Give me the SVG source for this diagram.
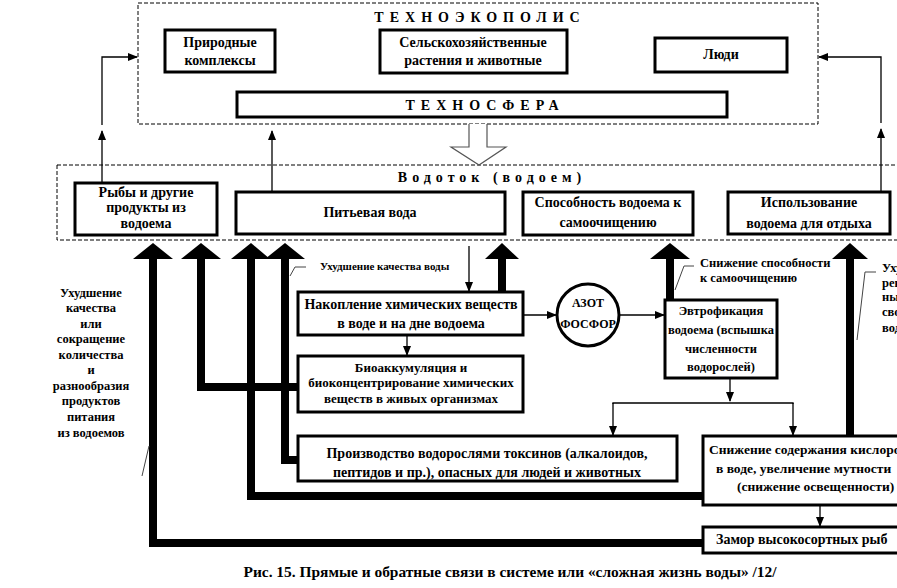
<svg xmlns="http://www.w3.org/2000/svg" width="897" height="588" viewBox="0 0 897 588">
<defs>
<style>
.box{fill:#fff;stroke:#000;stroke-width:3}
.dash{fill:none;stroke:#000;stroke-width:1;stroke-dasharray:4 2}
.t{font-family:"Liberation Serif","Times New Roman",serif;font-weight:bold;font-size:14px;text-anchor:middle;fill:#000}
.s{font-size:11px}
.m{font-size:12.5px}
.st{text-anchor:start}
.ttl{font-size:14px;letter-spacing:6px}
.thin{stroke:#000;stroke-width:1.3;fill:none}
.lead{stroke:#444;stroke-width:1;fill:none}
.thick{stroke:#000;stroke-width:8;fill:none}
.head{fill:#000}
</style>
<marker id="ah" markerWidth="10" markerHeight="10" refX="9" refY="4" orient="auto" markerUnits="userSpaceOnUse">
<path d="M0,0 L10,4 L0,8 Z" fill="#000"/>
</marker>
</defs>
<rect width="897" height="588" fill="#fff"/>

<g id="technoecopolis">
<rect class="dash" x="138" y="3" width="680" height="121"/>
<text class="t ttl" x="480" y="22">ТЕХНОЭКОПОЛИС</text>
</g>
<g id="node-prirodnye">
<rect class="box" x="165" y="30" width="110" height="42"/>
<text class="t" x="220" y="47">Природные</text>
<text class="t" x="220" y="65">комплексы</text>
</g>
<g id="node-selhoz">
<rect class="box" x="380" y="30" width="187" height="43"/>
<text class="t" x="473" y="47">Сельскохозяйственные</text>
<text class="t" x="473" y="65">растения и животные</text>
</g>
<g id="node-lyudi">
<rect class="box" x="655" y="38" width="132" height="34"/>
<text class="t" x="721" y="59">Люди</text>
</g>
<g id="node-technosfera">
<rect class="box" x="237" y="92" width="490" height="25"/>
<text class="t ttl" x="485" y="110">ТЕХНОСФЕРА</text>
</g>

<g id="vodotok">
<rect class="dash" x="57" y="165" width="860" height="75"/>
<text class="t ttl" x="492" y="182" style="letter-spacing:5px">Водоток (водоем)</text>
</g>
<g id="node-ryby">
<rect class="box" x="75" y="183" width="142" height="52"/>
<text class="t" x="146" y="197">Рыбы и другие</text>
<text class="t" x="146" y="212">продукты из</text>
<text class="t" x="146" y="228">водоема</text>
</g>
<g id="node-pitevaya">
<rect class="box" x="236" y="192" width="269" height="42"/>
<text class="t" x="370" y="217">Питьевая вода</text>
</g>
<g id="node-sposobnost">
<rect class="box" x="523" y="192" width="170" height="43"/>
<text class="t" x="608" y="207">Способность водоема к</text>
<text class="t" x="608" y="227">самоочищению</text>
</g>
<g id="node-ispolzovanie">
<rect class="box" x="728" y="192" width="162" height="42"/>
<text class="t" x="809" y="207">Использование</text>
<text class="t" x="809" y="228">водоема для отдыха</text>
</g>

<g id="node-nakoplenie">
<rect class="box" x="298" y="292" width="225" height="43"/>
<text class="t" x="411" y="309">Накопление химических веществ</text>
<text class="t" x="411" y="328">в воде и на дне водоема</text>
</g>
<g id="node-azot">
<circle cx="588" cy="315" r="31" fill="#fff" stroke="#000" stroke-width="3"/>
<text class="t" x="588" y="307" style="font-size:12px">АЗОТ</text>
<text class="t" x="588" y="328" style="font-size:12px">ФОСФОР</text>
</g>
<g id="node-evtrofikaciya">
<rect class="box" x="665" y="300" width="112" height="78"/>
<text class="t m" x="721" y="315">Эвтрофикация</text>
<text class="t m" x="721" y="334">водоема (вспышка</text>
<text class="t m" x="721" y="353">численности</text>
<text class="t m" x="721" y="371">водорослей)</text>
</g>
<g id="node-bioakk">
<rect class="box" x="298" y="356" width="225" height="56"/>
<text class="t" x="411" y="372" style="font-size:13px">Биоаккумуляция и</text>
<text class="t" x="411" y="387" style="font-size:13px">биоконцентрирование химических</text>
<text class="t" x="411" y="403" style="font-size:13px">веществ в живых организмах</text>
</g>
<g id="node-proizvodstvo">
<rect class="box" x="298" y="436" width="379" height="45"/>
<text class="t" x="487" y="458">Производство водорослями токсинов (алкалоидов,</text>
<text class="t" x="487" y="477">пептидов и пр.), опасных для людей и животных</text>
</g>
<g id="node-snizhenie">
<rect class="box" x="703" y="436" width="210" height="69"/>
<text class="t st" x="709" y="454" style="font-size:13.5px">Снижение  содержания кислорода</text>
<text class="t st" x="716" y="473" style="font-size:13.5px">в воде, увеличение мутности</text>
<text class="t st" x="737" y="491" style="font-size:13.5px">(снижение  освещенности)</text>
</g>
<g id="node-zamor">
<rect class="box" x="703" y="527" width="210" height="26"/>
<text class="t st" x="716" y="544">Замор высокосортных рыб</text>
</g>

<g id="labels">
<text class="t s st" x="320" y="270">Ухудшение качества воды</text>
<text class="t m st" x="700" y="267">Снижение  способности</text>
<text class="t m st" x="700" y="282">к самоочищению</text>
<text class="t m st" x="882" y="272">Ухудшение</text>
<text class="t m st" x="882" y="287">рекреацион-</text>
<text class="t m st" x="882" y="301">ных</text>
<text class="t m st" x="882" y="316">свойств</text>
<text class="t m st" x="882" y="332">водоема</text>
<text class="t m" x="91" y="297">Ухудшение</text>
<text class="t m" x="91" y="312">качества</text>
<text class="t m" x="91" y="328">или</text>
<text class="t m" x="91" y="343">сокращение</text>
<text class="t m" x="91" y="359">количества</text>
<text class="t m" x="91" y="374">и</text>
<text class="t m" x="91" y="390">разнообразия</text>
<text class="t m" x="91" y="405">продуктов</text>
<text class="t m" x="91" y="421">питания</text>
<text class="t m" x="91" y="437">из водоемов</text>
<text class="t" x="510" y="577" textLength="533" lengthAdjust="spacingAndGlyphs">Рис. 15. Прямые и обратные связи в системе или «сложная жизнь воды» /12/</text>
</g>

<g id="connectors">
<polyline class="thin" points="102,125 102,57 137,57" marker-end="url(#ah)"/>
<polyline class="thin" points="881,123 881,57 819,57" marker-end="url(#ah)"/>
<line class="thin" x1="102" y1="183" x2="102" y2="131" marker-end="url(#ah)"/>
<line class="thin" x1="272" y1="192" x2="272" y2="131" marker-end="url(#ah)"/>
<line class="thin" x1="881" y1="192" x2="881" y2="129" marker-end="url(#ah)"/>
<path d="M469,124 V147 H451 L479,165 L506,147 H487 V124" fill="#fff" stroke="#555" stroke-width="1.2"/>

<line class="thin" x1="469" y1="246" x2="469" y2="291" marker-end="url(#ah)"/>
<line class="thin" x1="523" y1="315" x2="556" y2="315" marker-end="url(#ah)"/>
<line class="thin" x1="619" y1="315" x2="664" y2="315" marker-end="url(#ah)"/>
<line class="thin" x1="407" y1="335" x2="407" y2="355" marker-end="url(#ah)"/>
<line class="thin" x1="730" y1="378" x2="730" y2="401" marker-end="url(#ah)"/>
<polyline class="thin" points="613,404 613,403 793,403 793,404"/>
<line class="thin" x1="613" y1="403" x2="613" y2="435" marker-end="url(#ah)"/>
<line class="thin" x1="793" y1="403" x2="793" y2="435" marker-end="url(#ah)"/>
<line class="thin" x1="820" y1="505" x2="820" y2="526" marker-end="url(#ah)"/>

<path class="thick" d="M153,257 V543 H703"/>
<path class="thick" d="M201,257 V387 H298"/>
<path class="thick" d="M251,257 V496 H703"/>
<path class="thick" d="M285,257 V460 H298"/>
<path class="thick" d="M502,292 V257"/>
<path class="thick" d="M670,300 V257"/>
<path class="thick" d="M850,436 V257"/>
<polygon class="head" points="133,259 153,243 173,259"/>
<polygon class="head" points="181,259 201,243 221,259"/>
<polygon class="head" points="231,259 251,243 270,259"/>
<polygon class="head" points="265,259 285,243 305,259"/>
<polygon class="head" points="485,259 502,243 519,259"/>
<polygon class="head" points="650,259 670,243 690,259"/>
<polygon class="head" points="832,259 850,243 868,259"/>

<polyline class="lead" points="290,276 295,267 306,267"/>
<polyline class="lead" points="675,290 684,266 694,266"/>
<polyline class="lead" points="876,272 865,272 857,340"/>
<polyline class="lead" points="142,476 149,446"/>
</g>
</svg>
